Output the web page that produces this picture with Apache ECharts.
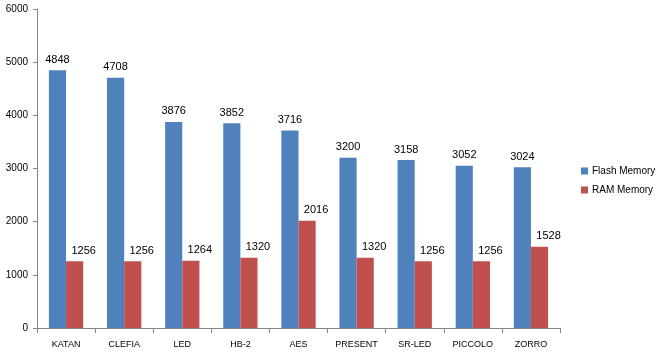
<!DOCTYPE html>
<html>
<head>
<meta charset="utf-8">
<script src="https://cdn.jsdelivr.net/npm/echarts@6/dist/echarts.min.js"></script>
<style>
    html, body { margin: 0; padding: 0; background: #fff; }
    #chart { width: 656px; height: 352px; }
</style>
</head>
<body>
<div id="chart"></div>
<script>
const categories = ['KATAN', 'CLEFIA', 'LED', 'HB-2', 'AES', 'PRESENT', 'SR-LED', 'PICCOLO', 'ZORRO'];
const flashMemory = [4848, 4708, 3876, 3852, 3716, 3200, 3158, 3052, 3024];
const ramMemory = [1256, 1256, 1264, 1320, 2016, 1320, 1256, 1256, 1528];
const yTicks = [0, 1000, 2000, 3000, 4000, 5000, 6000];

const chart = echarts.init(document.getElementById('chart'));

const font = 'Liberation Sans';

chart.setOption({
    animation: false,
    textStyle: { fontFamily: font },
    grid: { left: 37, right: 96, top: 9, bottom: 24 },
    legend: {
        orient: 'vertical',
        left: 576,
        top: 161,
        itemWidth: 7,
        itemHeight: 7,
        itemGap: 9,
        icon: 'rect',
        textStyle: { fontFamily: font, fontSize: 10, color: '#000', padding: [0, 0, 0, -1] },
        data: ['Flash Memory', 'RAM Memory']
    },
    xAxis: {
        type: 'category',
        data: categories,
        axisLine: { lineStyle: { color: '#868686' } },
        axisTick: { show: true, length: 5, lineStyle: { color: '#868686' } },
        axisLabel: { color: '#000', fontSize: 9, margin: 12, interval: 0 }
    },
    yAxis: {
        type: 'value',
        min: yTicks[0],
        max: yTicks[yTicks.length - 1],
        interval: 1000,
        axisLine: { show: true, lineStyle: { color: '#868686' } },
        axisTick: { show: true, length: 4, lineStyle: { color: '#868686' } },
        splitLine: { show: false },
        axisLabel: { color: '#000', fontSize: 10, margin: 9, formatter: (v) => String(v) }
    },
    series: [
        {
            name: 'Flash Memory',
            type: 'bar',
            data: flashMemory,
            barGap: '0%',
            barCategoryGap: '41%',
            itemStyle: { color: '#4F81BD' },
            label: { show: true, position: 'top', color: '#000', fontSize: 11, distance: 5 }
        },
        {
            name: 'RAM Memory',
            type: 'bar',
            data: ramMemory,
            itemStyle: { color: '#C0504D' },
            label: { show: true, position: 'top', color: '#000', fontSize: 11, distance: 5, offset: [9, 0] }
        }
    ]
});
</script>
</body>
</html>
